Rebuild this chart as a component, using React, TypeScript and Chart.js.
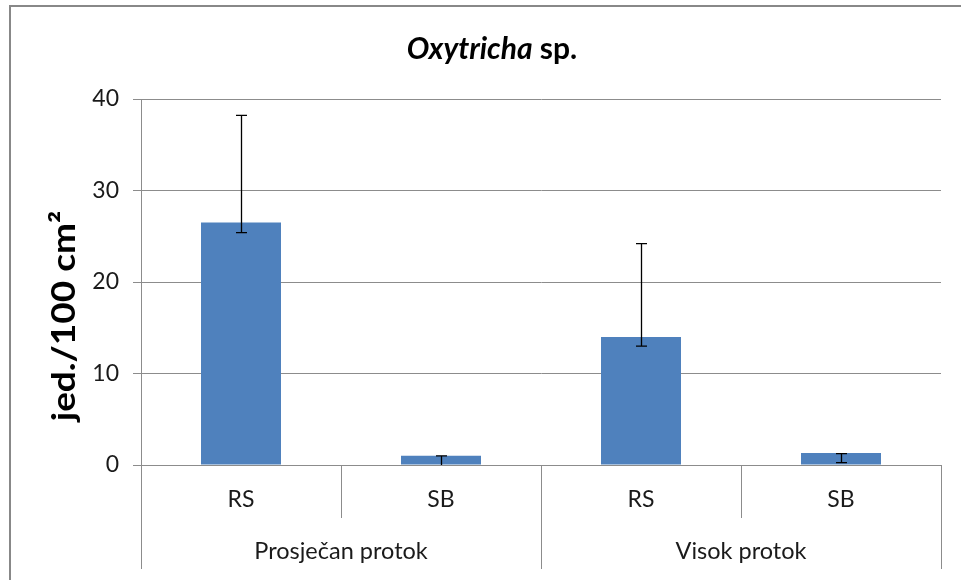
import React, { useEffect, useRef } from 'react';
import { Chart, registerables } from 'chart.js';

Chart.register(...registerables);

const categories = ['RS', 'SB', 'RS', 'SB'];
const groups = ['Prosječan protok', 'Visok protok'];
const values = [26.5, 1.0, 14.0, 1.3];
const errLow = [25.4, 0.0, 13.0, 0.25];
const errHigh = [38.2, 1.0, 24.2, 1.25];
const yMin = 0;
const yMax = 40;
const yStep = 10;
const titleItalic = 'Oxytricha';
const titleRest = ' sp.';
const yTitle = 'jed./100 cm²';

const FONT = "Lato, 'Open Sans', 'DejaVu Sans', sans-serif";
const GRID = '#8c8c8c';
const TEXT = '#1a1a1a';

const framePlugin = {
  id: 'frame',
  beforeDraw(chart: any) {
    const ctx = chart.ctx;
    ctx.save();
    ctx.fillStyle = '#ffffff';
    ctx.fillRect(0, 0, chart.width, chart.height);
    ctx.strokeStyle = '#888888';
    ctx.lineWidth = 2;
    ctx.beginPath();
    ctx.moveTo(10, chart.height);
    ctx.lineTo(10, 6);
    ctx.lineTo(chart.width, 6);
    ctx.stroke();
    ctx.restore();
  },
};

const errorBarPlugin = {
  id: 'errorBars',
  afterDatasetsDraw(chart: any) {
    const ctx = chart.ctx;
    const y = chart.scales.y;
    const meta = chart.getDatasetMeta(0);
    ctx.save();
    ctx.strokeStyle = '#000000';
    ctx.lineWidth = 1.3;
    meta.data.forEach((bar: any, i: number) => {
      const x = Math.round(bar.x) + 0.5;
      const yl = y.getPixelForValue(errLow[i]);
      const yh = y.getPixelForValue(errHigh[i]);
      const cap = 5.5;
      ctx.beginPath();
      ctx.moveTo(x, yl);
      ctx.lineTo(x, yh);
      ctx.moveTo(x - cap, yh);
      ctx.lineTo(x + cap, yh);
      if (errLow[i] > 0) {
        ctx.moveTo(x - cap, yl);
        ctx.lineTo(x + cap, yl);
      }
      ctx.stroke();
    });
    ctx.restore();
  },
};

const decorPlugin = {
  id: 'decor',
  afterDraw(chart: any) {
    const ctx = chart.ctx;
    const area = chart.chartArea;
    const xs = chart.scales.x;
    const n = categories.length;
    const step = (area.right - area.left) / n;
    const innerBottom = area.bottom + 53;
    const outerBottom = area.bottom + 104;
    ctx.save();
    ctx.strokeStyle = GRID;
    ctx.lineWidth = 1;
    for (let i = 0; i <= n; i++) {
      const bx = Math.round(area.left + i * step) + 0.5;
      const isGroupEdge = i % 2 === 0;
      ctx.beginPath();
      ctx.moveTo(bx, area.bottom);
      ctx.lineTo(bx, isGroupEdge ? outerBottom : innerBottom);
      ctx.stroke();
    }
    ctx.fillStyle = TEXT;
    ctx.textAlign = 'center';
    ctx.textBaseline = 'middle';
    ctx.font = `23px ${FONT}`;
    categories.forEach((c, i) => {
      ctx.fillText(c, xs.getPixelForValue(i), area.bottom + 35);
    });
    ctx.font = `23.5px ${FONT}`;
    groups.forEach((g, gi) => {
      const cx = (xs.getPixelForValue(gi * 2) + xs.getPixelForValue(gi * 2 + 1)) / 2;
      ctx.fillText(g, cx, area.bottom + 86);
    });

    // title
    ctx.textBaseline = 'alphabetic';
    ctx.textAlign = 'left';
    const fi = `italic bold 30px ${FONT}`;
    const fb = `bold 30px ${FONT}`;
    ctx.font = fi;
    const w1 = ctx.measureText(titleItalic).width;
    ctx.font = fb;
    const w2 = ctx.measureText(titleRest).width;
    const tx = 492 - (w1 + w2) / 2;
    ctx.fillStyle = '#000000';
    ctx.font = fi;
    ctx.fillText(titleItalic, tx, 59);
    ctx.font = fb;
    ctx.fillText(titleRest, tx + w1, 59);

    // y title
    ctx.save();
    ctx.translate(64, 316);
    ctx.rotate(-Math.PI / 2);
    ctx.textAlign = 'center';
    ctx.textBaseline = 'middle';
    ctx.font = `bold 33px ${FONT}`;
    ctx.scale(1.12, 1);
    ctx.fillText(yTitle, 0, 0);
    ctx.restore();
    ctx.restore();
  },
};

export default function App() {
  const ref = useRef<HTMLCanvasElement | null>(null);
  useEffect(() => {
    if (!ref.current) return;
    const chart = new Chart(ref.current, {
      type: 'bar',
      data: {
        labels: categories,
        datasets: [
          {
            data: values,
            backgroundColor: '#4f81bd',
            borderWidth: 0,
            categoryPercentage: 0.4,
            barPercentage: 1,
          },
        ],
      },
      options: {
        responsive: false,
        animation: false,
        devicePixelRatio: 1,
        layout: { padding: { left: 10, top: 99, right: 20, bottom: 115 } },
        plugins: {
          legend: { display: false },
          tooltip: { enabled: false },
          title: { display: false },
        },
        scales: {
          x: {
            type: 'category',
            display: false,
            offset: true,
          },
          y: {
            min: yMin,
            max: yMax,
            afterFit: (s: any) => {
              s.width = 131;
            },
            ticks: {
              stepSize: yStep,
              padding: 14,
              color: TEXT,
              font: { family: FONT, size: 23 },
            },
            grid: {
              color: GRID,
              lineWidth: 1,
              tickLength: 8,
              drawTicks: true,
            },
            border: { display: true, color: GRID, width: 1 },
          },
        },
      },
      plugins: [framePlugin, errorBarPlugin, decorPlugin],
    });
    return () => chart.destroy();
  }, []);
  return (
    <div style={{ position: 'fixed', left: 0, top: 0, width: 961, height: 580, background: '#fff' }}>
      <canvas ref={ref} width={961} height={580} style={{ display: 'block' }} />
    </div>
  );
}
